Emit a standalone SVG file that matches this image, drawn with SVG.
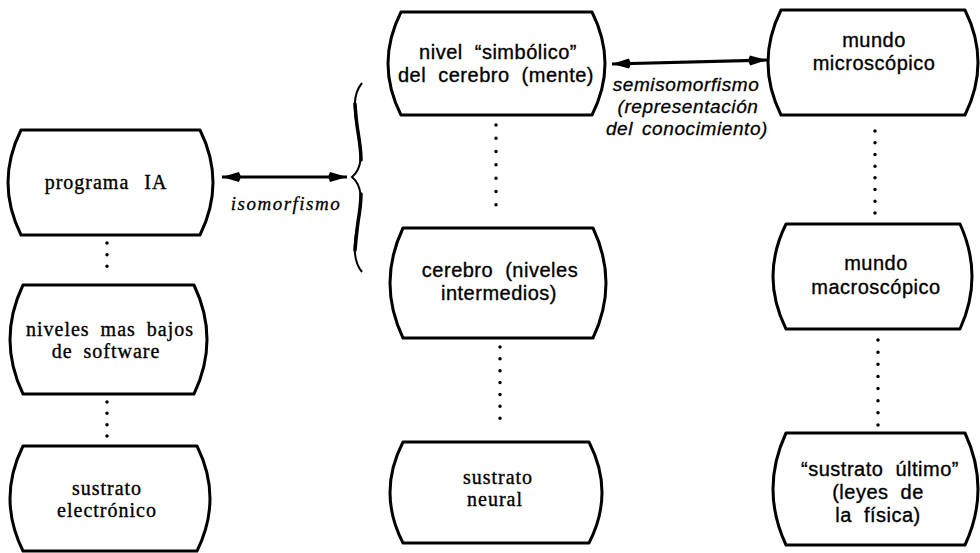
<svg xmlns="http://www.w3.org/2000/svg" width="980" height="553" viewBox="0 0 980 553">
<defs>
<style>
.box{fill:none;stroke:#000;stroke-width:3;stroke-linejoin:round}
.t{font-size:20px;fill:#000;stroke:#000;stroke-width:0.35px;text-anchor:middle}
.serif{font-family:"Liberation Serif","DejaVu Serif",serif;letter-spacing:1px;word-spacing:5px}
.sans{font-family:"Liberation Sans","DejaVu Sans",sans-serif;letter-spacing:0.5px;word-spacing:6px}
.lbl{font-size:19px;font-style:italic;fill:#000;stroke:#000;stroke-width:0.3px;text-anchor:middle}
.lser{font-family:"Liberation Serif","DejaVu Serif",serif;letter-spacing:1.5px}
.lsan{font-family:"Liberation Sans","DejaVu Sans",sans-serif;letter-spacing:0.6px;word-spacing:3px}
.dots{fill:none;stroke:#000;stroke-width:3.5;stroke-linecap:round}
.arr{fill:none;stroke:#000;stroke-width:3.2}
</style>
<marker id="ah" markerUnits="userSpaceOnUse" markerWidth="22" markerHeight="12" refX="19" refY="6" orient="auto-start-reverse">
<path d="M0,6 L2,1 L19,6 L2,11 Z" fill="#000"/>
</marker>
</defs>
<rect width="980" height="553" fill="#fff"/>

<g id="connectors">
<path class="arr" d="M222,177 L347,177" marker-start="url(#ah)" marker-end="url(#ah)"/>
<path class="arr" d="M612,64 L767,60" marker-start="url(#ah)" marker-end="url(#ah)"/>
<path d="M362,83 C352,95 354,112 358,132 C362,152 363,168 352,177 C363,186 362,202 358,222 C354,242 352,260 362,272" fill="none" stroke="#000" stroke-width="2"/>
<path d="M355,104 C356,118 357,126 358,132 C360,144 361,152 361,160" fill="none" stroke="#000" stroke-width="3.5" stroke-linecap="round"/>
<path d="M361,194 C361,202 360,210 358,222 C357,230 356,238 355,250" fill="none" stroke="#000" stroke-width="3.5" stroke-linecap="round"/>
<line class="dots" x1="107" y1="243" x2="107" y2="278" stroke-dasharray="0 11.67"/>
<line class="dots" x1="107" y1="402" x2="107" y2="436" stroke-dasharray="0 11.33"/>
<line class="dots" x1="496" y1="125" x2="496" y2="218" stroke-dasharray="0 13.29"/>
<line class="dots" x1="500" y1="347" x2="500" y2="430" stroke-dasharray="0 11.86"/>
<line class="dots" x1="875" y1="131" x2="875" y2="213" stroke-dasharray="0 11.71"/>
<line class="dots" x1="878" y1="340" x2="878" y2="425" stroke-dasharray="0 12.14"/>
<text class="lbl lser" x="286" y="210">isomorfismo</text>
<text class="lbl lsan" x="686" y="91">semisomorfismo</text>
<text class="lbl lsan" x="688" y="113">(representación</text>
<text class="lbl lsan" x="687" y="135">del conocimiento)</text>
</g>

<g id="programa">
<path class="box" d="M21,130 H200 Q226,182.5 200,235 H21 Q-5,182.5 21,130 Z"/>
<text class="t serif" x="106" y="189" style="word-spacing:9px">programa IA</text>
</g>
<g id="niveles-software">
<path class="box" d="M23,285 H194 Q220,339.5 194,394 H23 Q-3,339.5 23,285 Z"/>
<text class="t serif" x="110" y="336">niveles mas bajos</text>
<text class="t serif" x="106" y="358">de software</text>
</g>
<g id="sustrato-electronico">
<path class="box" d="M23,446 H197 Q223,498.5 197,551 H23 Q-3,498.5 23,446 Z"/>
<text class="t serif" x="107" y="495">sustrato</text>
<text class="t serif" x="107" y="517">electrónico</text>
</g>

<g id="nivel-simbolico">
<path class="box" d="M401,12 H592 Q618,63.5 592,115 H401 Q375,63.5 401,12 Z"/>
<text class="t sans" x="498" y="59">nivel “simbólico”</text>
<text class="t sans" x="496" y="82">del cerebro (mente)</text>
</g>
<g id="cerebro-intermedios">
<path class="box" d="M403,228 H593 Q619,283 593,338 H403 Q377,283 403,228 Z"/>
<text class="t sans" x="500" y="277">cerebro (niveles</text>
<text class="t sans" x="499" y="300">intermedios)</text>
</g>
<g id="sustrato-neural">
<path class="box" d="M403,442 H589 Q615,492.5 589,543 H403 Q377,492.5 403,442 Z"/>
<text class="t serif" x="498" y="484">sustrato</text>
<text class="t serif" x="495" y="506">neural</text>
</g>

<g id="mundo-micro">
<path class="box" d="M781,10 H965 Q991,62.5 965,115 H781 Q755,62.5 781,10 Z"/>
<text class="t sans" x="874" y="47">mundo</text>
<text class="t sans" x="874" y="70">microscópico</text>
</g>
<g id="mundo-macro">
<path class="box" d="M786,224 H960 Q984,276.5 960,329 H786 Q760,276.5 786,224 Z"/>
<text class="t sans" x="876" y="270">mundo</text>
<text class="t sans" x="876" y="294">macroscópico</text>
</g>
<g id="sustrato-ultimo">
<path class="box" d="M786,433 H965 Q991,489 965,545 H786 Q760,489 786,433 Z"/>
<text class="t sans" x="880" y="476">“sustrato último”</text>
<text class="t sans" x="878" y="499">(leyes de</text>
<text class="t sans" x="878" y="522">la física)</text>
</g>
</svg>
